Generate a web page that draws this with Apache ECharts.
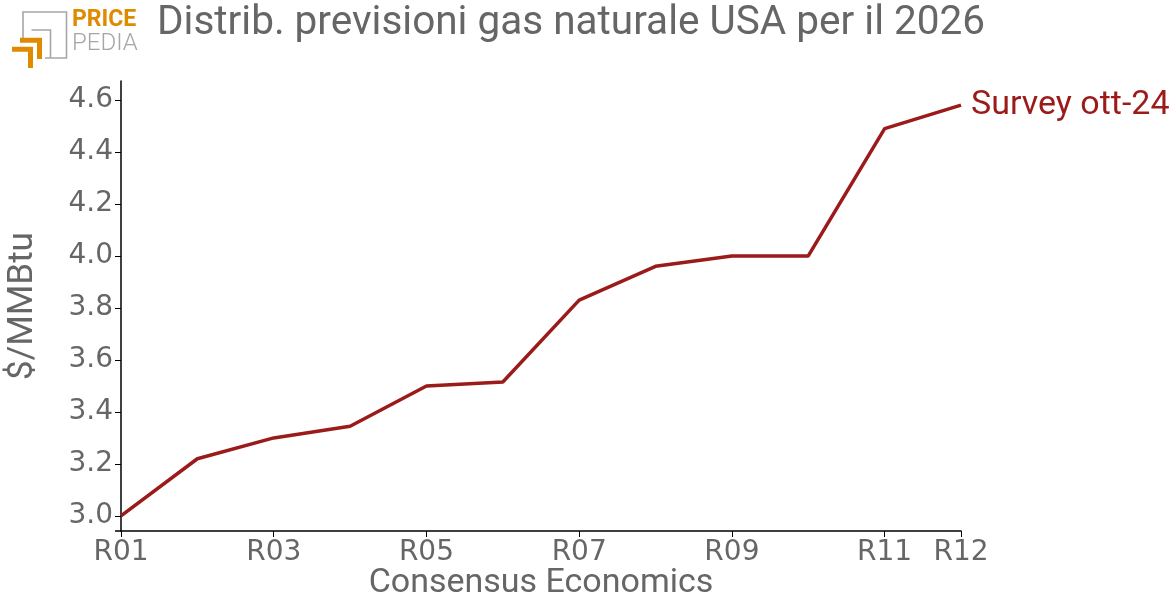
<!DOCTYPE html>
<html>
<head>
<meta charset="utf-8">
<script src="https://cdn.jsdelivr.net/npm/echarts@6/dist/echarts.min.js"></script>
<style>
html,body{margin:0;padding:0;background:#fff;}
#chart{width:1170px;height:594px;}
</style>
</head>
<body>
<div id="chart"></div>
<script>
const categories = ['R01','R02','R03','R04','R05','R06','R07','R08','R09','R10','R11','R12'];
const values = [3.0, 3.22, 3.30, 3.345, 3.50, 3.515, 3.83, 3.96, 4.0, 4.0, 4.49, 4.58];
const shownXLabels = ['R01','R03','R05','R07','R09','R11','R12'];
const yTicks = [3.0, 3.2, 3.4, 3.6, 3.8, 4.0, 4.2, 4.4, 4.6];
const seriesName = 'Survey ott-24';
const titleText = 'Distrib. previsioni gas naturale USA per il 2026';

const gray = '#666666';
const red = '#9b1a1a';
const orange = '#e08a00';
const logoGray = '#a6a6a6';

const chart = echarts.init(document.getElementById('chart'), null, {renderer: 'canvas'});
const showX = (i, v) => shownXLabels.indexOf(categories[i]) >= 0;

chart.setOption({
  animation: false,
  backgroundColor: '#fff',
  grid: {left: 121, right: 209, top: 81, bottom: 63, containLabel: false, outerBoundsMode: 'none'},
  title: {
    text: titleText, left: 152, top: -2,
    textStyle: {fontFamily: 'Roboto', fontSize: 40.5, fontWeight: 'normal', color: gray}
  },
  xAxis: {
    type: 'category', data: categories, boundaryGap: false,
    axisLine: {show: true, lineStyle: {color: '#000', width: 1.5}},
    axisTick: {show: true, length: 6, interval: showX, lineStyle: {color: '#000', width: 1}},
    axisLabel: {interval: showX, color: gray, fontFamily: 'DejaVu Sans', fontSize: 28, margin: 8},
    name: 'Consensus Economics', nameLocation: 'middle', nameGap: 35, nameMoveOverlap: false,
    nameTextStyle: {fontFamily: 'Roboto', fontSize: 34, color: gray},
    splitLine: {show: false}
  },
  yAxis: {
    type: 'value', min: 2.942, max: 4.673,
    axisLine: {show: true, lineStyle: {color: '#000', width: 1.5}},
    axisTick: {show: true, length: 6, customValues: yTicks, lineStyle: {color: '#000', width: 1}},
    axisLabel: {customValues: yTicks, color: gray, fontFamily: 'DejaVu Sans', fontSize: 28, margin: 8,
      formatter: v => v.toFixed(1)},
    splitLine: {show: false},
    name: '$/MMBtu', nameLocation: 'middle', nameGap: 80, nameRotate: 90, nameMoveOverlap: false,
    nameTextStyle: {fontFamily: 'Roboto', fontSize: 35, color: gray}
  },
  series: [{
    name: seriesName, type: 'line', data: values, showSymbol: false, symbol: 'none',
    lineStyle: {color: red, width: 3.5},
    endLabel: {show: true, formatter: seriesName, color: red, fontFamily: 'Roboto', fontSize: 34, distance: 10}
  }],
  graphic: [
    {type: 'line', shape: {x1: 115, y1: 531, x2: 121, y2: 531}, style: {stroke: '#000', lineWidth: 1.5}},
    // logo
    {type: 'polyline', shape: {points: [[23,38],[23,12],[66.5,12],[66.5,58],[45,58]]}, style: {stroke: logoGray, lineWidth: 1.6, fill: null}},
    {type: 'polyline', shape: {points: [[31.5,30],[50.5,30],[50.5,58]]}, style: {stroke: logoGray, lineWidth: 1.6, fill: null}},
    {type: 'polygon', shape: {points: [[20,37.7],[42,37.7],[42,59],[37,59],[37,42.7],[20,42.7]]}, style: {fill: orange}},
    {type: 'polygon', shape: {points: [[12,46.7],[33,46.7],[33,68],[28,68],[28,51.7],[12,51.7]]}, style: {fill: orange}},
    {type: 'text', left: 72, top: 9, style: {text: 'PRICE', fontFamily: 'Roboto', fontWeight: 'bold', fontSize: 23, fill: orange}},
    {type: 'text', left: 72, top: 32, style: {text: 'PEDIA', fontFamily: 'Roboto', fontWeight: 300, fontSize: 24, fill: logoGray}}
  ]
});
</script>
</body>
</html>
